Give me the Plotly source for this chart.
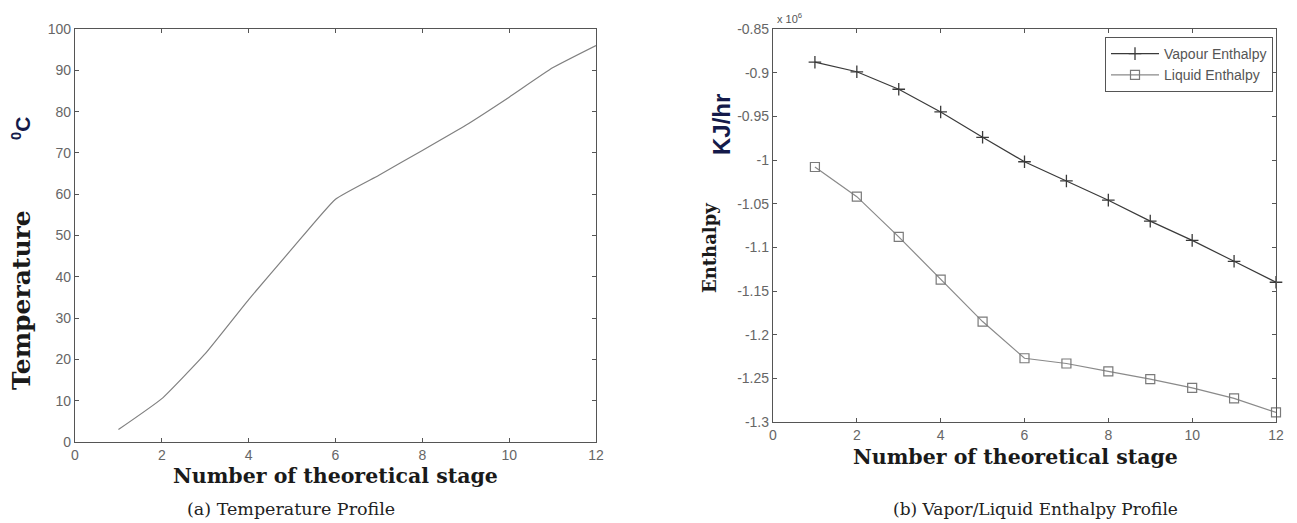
import plotly.graph_objects as go

stages = [1, 2, 3, 4, 5, 6, 7, 8, 9, 10, 11, 12]
temperature = [3.0, 10.5, 21.4, 34.5, 46.8, 58.8, 64.6, 70.6, 76.7, 83.5, 90.6, 96.0]
vapour_enthalpy = [-0.888, -0.899, -0.919, -0.945, -0.974, -1.002, -1.024, -1.046, -1.070, -1.092, -1.116, -1.140]
liquid_enthalpy = [-1.008, -1.042, -1.088, -1.137, -1.185, -1.227, -1.233, -1.242, -1.251, -1.261, -1.273, -1.289]

x_ticks = [0, 2, 4, 6, 8, 10, 12]
temp_ticks = [0, 10, 20, 30, 40, 50, 60, 70, 80, 90, 100]
enth_ticks = [-1.3, -1.25, -1.2, -1.15, -1.1, -1.05, -1.0, -0.95, -0.9, -0.85]
enth_tick_text = ["-1.3", "-1.25", "-1.2", "-1.15", "-1.1", "-1.05", "-1", "-0.95", "-0.9", "-0.85"]

W, H = 1297, 523
def px(x): return x / W
def py(y): return 1 - y / H

fig = go.Figure()
fig.add_trace(go.Scatter(x=stages, y=temperature, mode="lines",
                         line=dict(color="#808080", width=1.2, shape="spline", smoothing=0.4),
                         xaxis="x", yaxis="y", showlegend=False))
fig.add_trace(go.Scatter(x=stages, y=vapour_enthalpy, mode="lines+markers",
                         name="Vapour Enthalpy",
                         line=dict(color="#3a3a3a", width=1.2),
                         marker=dict(symbol="cross-thin", size=9,
                                     line=dict(color="#3a3a3a", width=1.3)),
                         xaxis="x2", yaxis="y2", cliponaxis=False))
fig.add_trace(go.Scatter(x=stages, y=liquid_enthalpy, mode="lines+markers",
                         name="Liquid Enthalpy",
                         line=dict(color="#8a8a8a", width=1.2),
                         marker=dict(symbol="square-open", size=9,
                                     color="#7a7a7a",
                                     line=dict(color="#7a7a7a", width=1.2)),
                         xaxis="x2", yaxis="y2", cliponaxis=False))

axis_common = dict(showgrid=False, zeroline=False, showline=True, linecolor="#555555",
                   linewidth=1.3, mirror="ticks", ticks="inside", ticklen=4,
                   tickcolor="#555555", automargin=False,
                   tickfont=dict(family="Liberation Sans, Arial", size=14, color="#666666"))

fig.update_layout(
    width=W, height=H,
    margin=dict(l=0, r=0, t=0, b=0, autoexpand=False),
    paper_bgcolor="white", plot_bgcolor="white",
    xaxis=dict(domain=[px(75), px(596)], range=[0, 12], tickvals=x_ticks,
               anchor="y", **axis_common),
    yaxis=dict(domain=[py(442), py(29)], range=[0, 100], tickvals=temp_ticks,
               anchor="x", **axis_common),
    xaxis2=dict(domain=[px(773), px(1276)], range=[0, 12], tickvals=x_ticks,
                anchor="y2", **axis_common),
    yaxis2=dict(domain=[py(422), py(29)], range=[-1.3, -0.85], tickvals=enth_ticks,
                ticktext=enth_tick_text, anchor="x2", **axis_common),
    legend=dict(x=px(1273), y=py(37), xanchor="right", yanchor="top",
                bgcolor="white", bordercolor="#555555", borderwidth=1,
                font=dict(family="Liberation Sans, Arial", size=14, color="#555555"),
                itemwidth=48, tracegroupgap=0),
)

serif_bold = dict(family="DejaVu Serif", size=20.5, color="#1a1a1a")
ann = []
ann.append(dict(x=px(335), y=py(476), text="<b>Number of theoretical stage</b>", font=serif_bold))
ann.append(dict(x=px(1015), y=py(457), text="<b>Number of theoretical stage</b>", font=serif_bold))
ann.append(dict(x=px(291), y=py(509), text="(a) Temperature Profile",
                font=dict(family="DejaVu Serif", size=17.5, color="#222222")))
ann.append(dict(x=px(1035), y=py(509), text="(b) Vapor/Liquid Enthalpy Profile",
                font=dict(family="DejaVu Serif", size=17, color="#222222")))
ann.append(dict(x=px(21), y=py(300), text="<b>Temperature</b>", textangle=-90,
                font=dict(family="DejaVu Serif", size=25, color="#1a1a1a")))
ann.append(dict(x=px(21), y=py(129), text="<b><sup>0</sup>C</b>", textangle=-90,
                font=dict(family="Liberation Sans, Arial", size=21, color="#141a4a")))
ann.append(dict(x=px(709), y=py(248), text="<b>Enthalpy</b>", textangle=-90,
                font=dict(family="DejaVu Serif", size=18, color="#1a1a1a")))
ann.append(dict(x=px(721), y=py(125), text="<b>KJ/hr</b>", textangle=-90,
                font=dict(family="Liberation Sans, Arial", size=24, color="#141a4a")))
ann.append(dict(x=px(775), y=py(18), text="x 10<sup>6</sup>", xanchor="left",
                font=dict(family="Liberation Sans, Arial", size=11, color="#555555")))
for a in ann:
    a.setdefault("xanchor", "center")
    a.update(xref="paper", yref="paper", yanchor="middle", showarrow=False)
fig.update_layout(annotations=ann)

fig.write_html("out.html", config={"displayModeBar": False},
               post_script="document.body.style.margin='0px';document.body.style.overflow='hidden';")
